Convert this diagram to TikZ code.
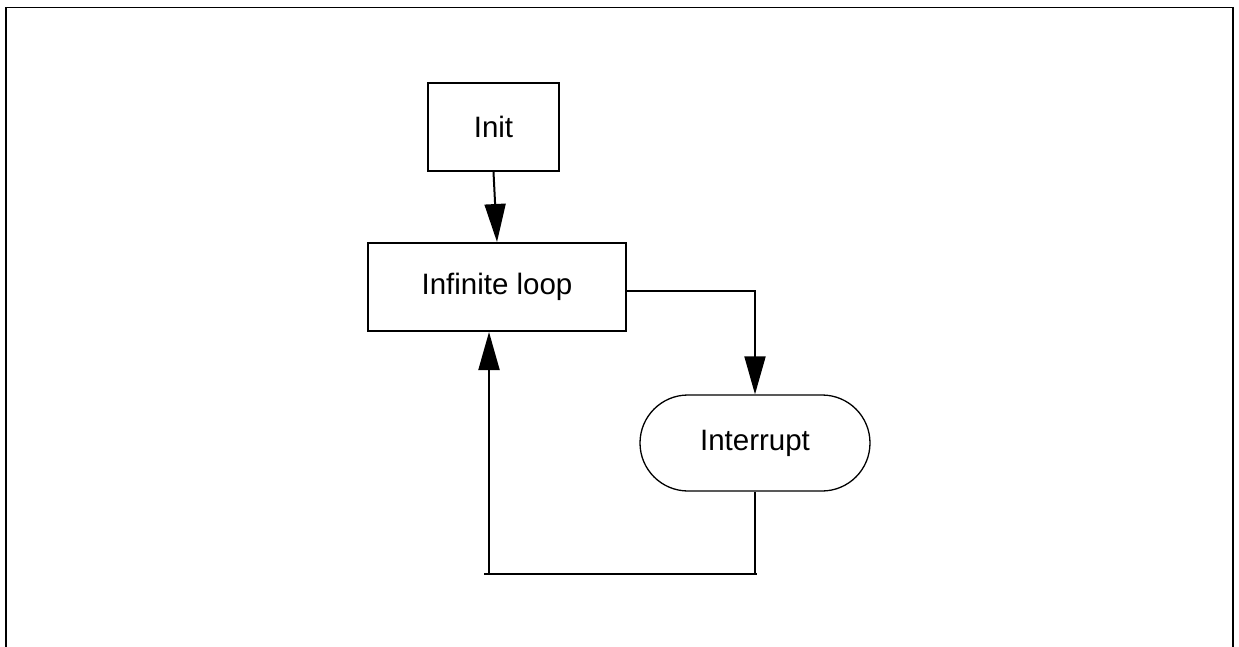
\documentclass[tikz,border=0pt]{standalone}
\usepackage{fontspec}
\setmainfont{Liberation Sans}
\usetikzlibrary{shapes.misc,arrows.meta}
\tikzset{
  procbox/.style={draw, line width=2pt, rectangle, inner sep=0pt, font=\fontsize{29.5}{34}\selectfont},
  termbox/.style={draw, line width=1.3pt, rounded rectangle, inner sep=0pt, font=\fontsize{29.5}{34}\selectfont},
  conn/.style={line width=2pt},
  arr/.style={conn, -{Triangle[length=38pt,width=21pt]}},
  frameline/.style={line width=1.7pt}
}
\begin{document}
\begin{tikzpicture}[x=1pt,y=-1pt]
\useasboundingbox (0,0) rectangle (1239,647);
\draw[frameline] (6,647) -- (6,7.5) -- (1233,7.5) -- (1233,647);
\node[procbox, minimum width=131pt, minimum height=88pt] (init) at (493.5,127) {Init};
\node[procbox, minimum width=258pt, minimum height=88pt] (loop) at (497,287) {Infinite loop};
\node[termbox, minimum width=230pt, minimum height=96pt] (intr) at (755,443) {Interrupt};
\coordinate (c2) at (489,574);
\coordinate (c1) at (755,574);
\draw[arr] (init.south) -- (loop.north);
\draw[arr] ([yshift=-4pt]loop.east) -| (intr.north);
\draw[conn] (intr.south) -- (c1);
\draw[conn] ([xshift=-5pt]c2) -- ([xshift=2pt]c1);
\draw[arr] (c2) -- (c2 |- loop.south);
\end{tikzpicture}
\end{document}
